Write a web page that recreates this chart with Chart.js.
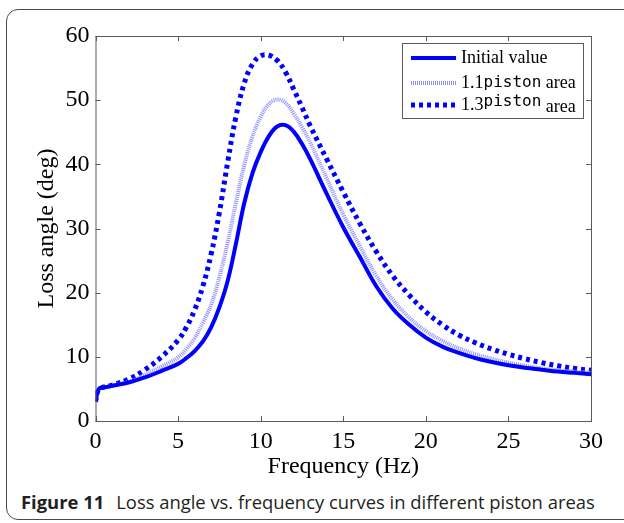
<!DOCTYPE html>
<html>
<head>
<meta charset="utf-8">
<script src="https://cdn.jsdelivr.net/npm/chart.js@4.4.1/dist/chart.umd.min.js"></script>
<style>
  html, body { margin: 0; padding: 0; background: #fff; width: 624px; height: 523px; overflow: hidden; }
  .frame { position: absolute; left: 6px; top: 9px; width: 640px; height: 511px; border: 1.5px solid #4a4a4a; border-radius: 12px; box-sizing: border-box; }
  .caption { position: absolute; left: 21px; top: 489px; font-family: "Open Sans", "Noto Sans", sans-serif; font-size: 18.4px; color: #231f20; white-space: nowrap; }
  .caption b { margin-right: 12px; }
  #wrap { position: absolute; left: 0; top: 0; width: 624px; height: 523px; }
</style>
</head>
<body>
<div class="frame"></div>
<div class="caption"><b>Figure 11</b>Loss angle vs. frequency curves in different piston areas</div>
<div id="wrap"><canvas id="chart"></canvas></div>
<script>
// frequency (Hz)
const freq = [0, 0.2, 0.5, 1, 2, 3, 4, 5, 5.5, 6, 6.5, 7, 7.5, 8, 8.5, 9, 9.5, 10, 10.5, 11, 11.5, 12, 12.5, 13, 14, 15, 16, 17, 18, 19, 20, 21, 22, 23, 24, 25, 26, 27, 28, 29, 30];
// loss angle (deg)
const initialValue = [3.0, 5.0, 5.2, 5.5, 6.0, 6.8, 7.8, 8.9, 9.8, 10.9, 12.4, 14.6, 17.7, 21.8, 27.6, 33.9, 38.6, 41.9, 44.4, 45.9, 46.1, 45.1, 43.2, 40.8, 35.4, 30.2, 25.6, 21.0, 17.5, 15.0, 13.0, 11.6, 10.6, 9.8, 9.2, 8.7, 8.3, 8.0, 7.7, 7.5, 7.3];
const piston11 = [3.0, 5.0, 5.2, 5.5, 6.1, 7.2, 8.5, 9.9, 11.2, 12.9, 15.3, 18.1, 22.4, 27.8, 34.0, 39.8, 44.3, 47.4, 49.4, 50.1, 49.6, 47.9, 45.8, 43.4, 37.8, 32.2, 27.3, 22.6, 18.9, 16.1, 14.0, 12.5, 11.3, 10.4, 9.7, 9.1, 8.6, 8.2, 7.9, 7.7, 7.5];
const piston13 = [3.0, 5.0, 5.3, 5.6, 6.5, 8.0, 10.0, 12.6, 14.6, 17.3, 21.0, 26.0, 32.5, 40.3, 47.4, 52.6, 55.6, 56.9, 57.0, 56.2, 54.4, 51.7, 48.9, 46.0, 40.8, 35.7, 30.8, 26.4, 22.6, 19.6, 17.0, 15.0, 13.4, 12.2, 11.2, 10.4, 9.7, 9.1, 8.6, 8.2, 7.9];
const labels = ['Initial value', '1.1piston area', '1.3piston area'];
const xTicks = [0, 5, 10, 15, 20, 25, 30];
const yTicks = [0, 10, 20, 30, 40, 50, 60];

const serif = '"Liberation Serif", "DejaVu Serif", serif';
const pts = arr => freq.map((f, i) => ({ x: f, y: arr[i] }));

// matlab style box with inward ticks + legend
const boxPlugin = {
  id: 'box',
  afterDatasetsDraw(chart) {
    const { ctx, chartArea: a, scales: { x, y } } = chart;
    ctx.save();
    ctx.strokeStyle = '#5a5a5a';
    ctx.lineWidth = 1;
    ctx.strokeRect(a.left + 0.5, a.top + 0.5, a.right - a.left, a.bottom - a.top);
    ctx.beginPath();
    xTicks.forEach(v => {
      const px = Math.round(x.getPixelForValue(v)) + 0.5;
      ctx.moveTo(px, a.bottom); ctx.lineTo(px, a.bottom - 5);
      ctx.moveTo(px, a.top); ctx.lineTo(px, a.top + 5);
    });
    yTicks.forEach(v => {
      const py = Math.round(y.getPixelForValue(v)) + 0.5;
      ctx.moveTo(a.left, py); ctx.lineTo(a.left + 5, py);
      ctx.moveTo(a.right, py); ctx.lineTo(a.right - 5, py);
    });
    ctx.stroke();
    ctx.restore();
  },
  afterDraw(chart) {
    const { ctx, chartArea: a } = chart;
    const bx = a.right - 189, by = a.top + 7, bw = 181, bh = 75;
    ctx.save();
    ctx.fillStyle = '#fff';
    ctx.fillRect(bx, by, bw, bh);
    ctx.strokeStyle = '#5a5a5a';
    ctx.lineWidth = 1;
    ctx.strokeRect(bx + 0.5, by + 0.5, bw, bh);
    const rows = [15, 40, 62];
    chart.data.datasets.forEach((ds, i) => {
      const yy = by + rows[i];
      ctx.beginPath();
      ctx.strokeStyle = ds.borderColor;
      ctx.lineWidth = ds.borderWidth;
      ctx.setLineDash(ds.borderDash || []);
      ctx.moveTo(bx + 9, yy); ctx.lineTo(bx + 54, yy);
      ctx.stroke();
      ctx.setLineDash([]);
      ctx.fillStyle = '#000';
      ctx.textBaseline = 'middle';
      let tx = bx + 59;
      if (i === 0) {
        ctx.font = '18px ' + serif;
        ctx.fillText(ds.label, tx, yy);
      } else {
        const parts = [['18px ' + serif, ds.label.slice(0, 3), 0], ['16px "DejaVu Sans Mono", monospace', 'piston', i === 2 ? -3 : 0], ['18px ' + serif, ' area', i === 2 ? 2 : 0]];
        parts.forEach(([font, t, dy]) => {
          ctx.font = font;
          ctx.fillText(t, tx, yy + dy);
          tx += ctx.measureText(t).width;
        });
      }
    });
    ctx.restore();
  }
};

new Chart(document.getElementById('chart'), {
  type: 'line',
  data: {
    datasets: [
      { label: labels[0], data: pts(initialValue), borderColor: '#0000ff', borderWidth: 4 },
      { label: labels[1], data: pts(piston11), borderColor: '#8f8fff', borderWidth: 4, borderDash: [1, 1] },
      { label: labels[2], data: pts(piston13), borderColor: '#0000ff', borderWidth: 5, borderDash: [4, 4] }
    ]
  },
  options: {
    responsive: true, maintainAspectRatio: false, animation: false,
    layout: { padding: { left: 28, top: 36, right: 33, bottom: 40 } },
    elements: { point: { radius: 0 }, line: { tension: 0.4 } },
    plugins: { legend: { display: false }, tooltip: { enabled: false } },
    scales: {
      x: {
        type: 'linear', min: 0, max: 30,
        afterFit: s => { s.height = 62; },
        afterBuildTicks: s => { s.ticks = xTicks.map(v => ({ value: v })); },
        grid: { display: false, drawTicks: false },
        border: { display: false },
        ticks: { color: '#000', padding: 6, font: { family: serif, size: 24 }, maxRotation: 0 },
        title: { display: true, text: 'Frequency (Hz)', color: '#000', font: { family: serif, size: 24 }, padding: { top: 0, bottom: 2 } }
      },
      y: {
        min: 0, max: 60,
        afterFit: s => { s.width = 67.5; },
        afterBuildTicks: s => { s.ticks = yTicks.map(v => ({ value: v })); },
        grid: { display: false, drawTicks: false },
        border: { display: false },
        ticks: { color: '#000', padding: 6, font: { family: serif, size: 24 } },
        title: { display: true, text: 'Loss angle (deg)', color: '#000', font: { family: serif, size: 24 }, padding: { top: 4, bottom: 0 } }
      }
    }
  },
  plugins: [boxPlugin]
});
</script>
</body>
</html>
